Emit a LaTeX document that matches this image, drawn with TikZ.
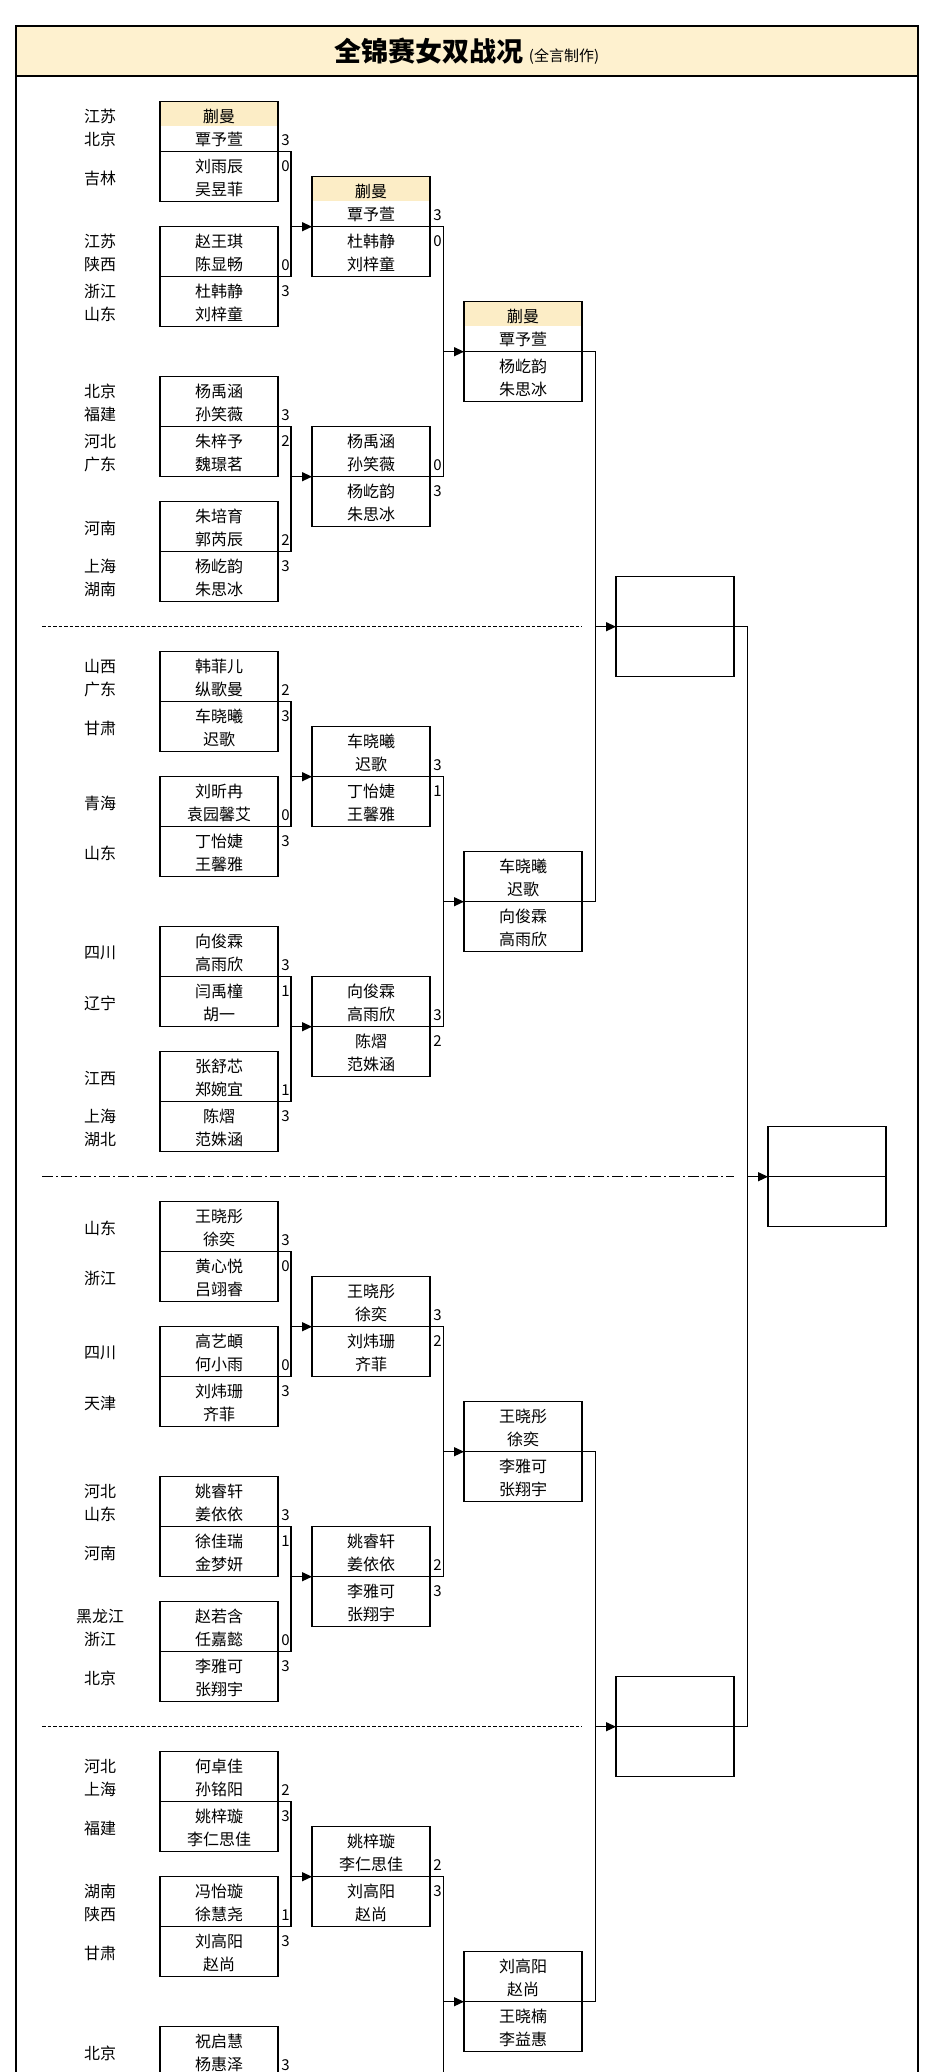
\documentclass[tikz,border=0pt]{standalone}
\usepackage{fontspec}
\setmainfont{Noto Sans CJK SC}
\usetikzlibrary{arrows.meta,calc}
\definecolor{hlcol}{HTML}{FCEDC6}
\definecolor{titlecol}{HTML}{FEF1CF}
\tikzset{
  mbox/.style={draw, line width=1.3pt, minimum width=118pt, minimum height=100pt, inner sep=0pt, outer sep=0pt},
  team/.style={align=center, font=\fontsize{16}{23}\selectfont, inner sep=0pt},
  prov/.style={align=center, font=\fontsize{16}{23}\selectfont, inner sep=0pt},
  score/.style={font=\fontsize{15}{15}\selectfont, inner sep=0pt},
  conn/.style={line width=1.3pt},
  arr/.style={line width=1.3pt, -{Triangle[length=10pt,width=9pt]}},
  sepline/.style={line width=1pt, dash pattern=on 3.5pt off 2pt},
  sepdot/.style={line width=1pt, dash pattern=on 11pt off 3pt on 2pt off 3pt},
  frame/.style={line width=2.5pt},
}
\newcommand{\MatchBox}[7]{%
  \node[mbox] (#1) at (#2,#3) {};
  \draw[conn] (#1.west) -- (#1.east);
  \node[team] (#1a) at ($(#1.center)+(0,-23.5)$) {#4};
  \node[team] (#1b) at ($(#1.center)+(0,26.5)$) {#5};
  \node[score] (#1sa) at ($(#1.east)+(7.5,-11.5)$) {#6};
  \node[score] (#1sb) at ($(#1.east)+(7.5,14)$) {#7};
}
\newcommand{\ProvPair}[4]{%
  \node[prov] (#1a) at (100,#2-23.5) {#3};
  \node[prov] (#1b) at (100,#2+26.5) {#4};
}
\begin{document}
\begin{tikzpicture}[x=1pt,y=-1pt]
\useasboundingbox (0,0) rectangle (926,2072);
\clip (0,0) rectangle (926,2072);
% frame and title
\fill[titlecol] (16,26) rectangle (918,76);
\draw[frame] (16,2100) -- (16,26) -- (918,26) -- (918,2100);
\draw[frame] (16,76) -- (918,76);
\node[inner sep=0pt] (title) at (467,51) {{\fontsize{27}{27}\selectfont\bfseries 全锦赛女双战况}\hspace{5pt}{\fontsize{15}{15}\selectfont (全言制作)}};

% separators
\draw[sepline] (42,626.7) -- (582,626.7);
\draw[sepdot] (42,1176.7) -- (734,1176.7);
\draw[sepline] (42,1726.7) -- (582,1726.7);

% highlights
\fill[hlcol] (160,101.7) rectangle (278,125.7);
\fill[hlcol] (312,176.7) rectangle (430,200.7);
\fill[hlcol] (464,301.7) rectangle (582,325.7);

% round 1
\MatchBox{m0}{219}{151.7}{蒯曼\\覃予萱}{刘雨辰\\吴昱菲}{3}{0}
\MatchBox{m1}{219}{276.7}{赵王琪\\陈显畅}{杜韩静\\刘梓童}{0}{3}
\MatchBox{m2}{219}{426.7}{杨禹涵\\孙笑薇}{朱梓予\\魏璟茗}{3}{2}
\MatchBox{m3}{219}{551.7}{朱培育\\郭芮辰}{杨屹韵\\朱思冰}{2}{3}
\MatchBox{m4}{219}{701.7}{韩菲儿\\纵歌曼}{车晓曦\\迟歌}{2}{3}
\MatchBox{m5}{219}{826.7}{刘昕冉\\袁园馨艾}{丁怡婕\\王馨雅}{0}{3}
\MatchBox{m6}{219}{976.7}{向俊霖\\高雨欣}{闫禹橦\\胡一}{3}{1}
\MatchBox{m7}{219}{1101.7}{张舒芯\\郑婉宜}{陈熠\\范姝涵}{1}{3}
\MatchBox{m8}{219}{1251.7}{王晓彤\\徐奕}{黄心悦\\吕翊睿}{3}{0}
\MatchBox{m9}{219}{1376.7}{高艺頔\\何小雨}{刘炜珊\\齐菲}{0}{3}
\MatchBox{m10}{219}{1526.7}{姚睿轩\\姜依依}{徐佳瑞\\金梦妍}{3}{1}
\MatchBox{m11}{219}{1651.7}{赵若含\\任嘉懿}{李雅可\\张翔宇}{0}{3}
\MatchBox{m12}{219}{1801.7}{何卓佳\\孙铭阳}{姚梓璇\\李仁思佳}{2}{3}
\MatchBox{m13}{219}{1926.7}{冯怡璇\\徐慧尧}{刘高阳\\赵尚}{1}{3}
\MatchBox{m14}{219}{2076.7}{祝启慧\\杨惠泽}{}{3}{}

% provinces
\ProvPair{p0}{151.7}{江苏\\北京}{吉林}
\ProvPair{p1}{276.7}{江苏\\陕西}{浙江\\山东}
\ProvPair{p2}{426.7}{北京\\福建}{河北\\广东}
\ProvPair{p3}{551.7}{河南}{上海\\湖南}
\ProvPair{p4}{701.7}{山西\\广东}{甘肃}
\ProvPair{p5}{826.7}{青海}{山东}
\ProvPair{p6}{976.7}{四川}{辽宁}
\ProvPair{p7}{1101.7}{江西}{上海\\湖北}
\ProvPair{p8}{1251.7}{山东}{浙江}
\ProvPair{p9}{1376.7}{四川}{天津}
\ProvPair{p10}{1526.7}{河北\\山东}{河南}
\ProvPair{p11}{1651.7}{黑龙江\\浙江}{北京}
\ProvPair{p12}{1801.7}{河北\\上海}{福建}
\ProvPair{p13}{1926.7}{湖南\\陕西}{甘肃}
\node[prov] (p14a) at (100,2053.2) {北京};

% round 2
\MatchBox{r0}{371}{226.7}{蒯曼\\覃予萱}{杜韩静\\刘梓童}{3}{0}
\MatchBox{r1}{371}{476.7}{杨禹涵\\孙笑薇}{杨屹韵\\朱思冰}{0}{3}
\MatchBox{r2}{371}{776.7}{车晓曦\\迟歌}{丁怡婕\\王馨雅}{3}{1}
\MatchBox{r3}{371}{1026.7}{向俊霖\\高雨欣}{陈熠\\范姝涵}{3}{2}
\MatchBox{r4}{371}{1326.7}{王晓彤\\徐奕}{刘炜珊\\齐菲}{3}{2}
\MatchBox{r5}{371}{1576.7}{姚睿轩\\姜依依}{李雅可\\张翔宇}{2}{3}
\MatchBox{r6}{371}{1876.7}{姚梓璇\\李仁思佳}{刘高阳\\赵尚}{2}{3}
\coordinate (r7e) at (430,2126.7);

% round 3
\MatchBox{s0}{523}{351.7}{蒯曼\\覃予萱}{杨屹韵\\朱思冰}{}{}
\MatchBox{s1}{523}{901.7}{车晓曦\\迟歌}{向俊霖\\高雨欣}{}{}
\MatchBox{s2}{523}{1451.7}{王晓彤\\徐奕}{李雅可\\张翔宇}{}{}
\MatchBox{s3}{523}{2001.7}{刘高阳\\赵尚}{王晓楠\\李益惠}{}{}

% semifinals and final
\MatchBox{f0}{675}{626.7}{}{}{}{}
\MatchBox{f1}{675}{1726.7}{}{}{}{}
\MatchBox{w}{827}{1176.7}{}{}{}{}

% connectors round 1 -> round 2
\draw[conn] (m0.east) -- ++(13,0) coordinate (jm0) |- (m1.east);
\draw[arr] (jm0 |- r0.west) -- (r0.west);
\draw[conn] (m2.east) -- ++(13,0) coordinate (jm1) |- (m3.east);
\draw[arr] (jm1 |- r1.west) -- (r1.west);
\draw[conn] (m4.east) -- ++(13,0) coordinate (jm2) |- (m5.east);
\draw[arr] (jm2 |- r2.west) -- (r2.west);
\draw[conn] (m6.east) -- ++(13,0) coordinate (jm3) |- (m7.east);
\draw[arr] (jm3 |- r3.west) -- (r3.west);
\draw[conn] (m8.east) -- ++(13,0) coordinate (jm4) |- (m9.east);
\draw[arr] (jm4 |- r4.west) -- (r4.west);
\draw[conn] (m10.east) -- ++(13,0) coordinate (jm5) |- (m11.east);
\draw[arr] (jm5 |- r5.west) -- (r5.west);
\draw[conn] (m12.east) -- ++(13,0) coordinate (jm6) |- (m13.east);
\draw[arr] (jm6 |- r6.west) -- (r6.west);

% round 2 -> round 3
\draw[conn] (r0.east) -- ++(13.5,0) coordinate (jr0) |- (r1.east);
\draw[arr] (jr0 |- s0.west) -- (s0.west);
\draw[conn] (r2.east) -- ++(13.5,0) coordinate (jr1) |- (r3.east);
\draw[arr] (jr1 |- s1.west) -- (s1.west);
\draw[conn] (r4.east) -- ++(13.5,0) coordinate (jr2) |- (r5.east);
\draw[arr] (jr2 |- s2.west) -- (s2.west);
\draw[conn] (r6.east) -- ++(13.5,0) coordinate (jr3) |- (r7e);
\draw[arr] (jr3 |- s3.west) -- (s3.west);

% round 3 -> semifinal
\draw[conn] (s0.east) -- ++(13.5,0) coordinate (js0) |- (s1.east);
\draw[arr] (js0 |- f0.west) -- (f0.west);
\draw[conn] (s2.east) -- ++(13.5,0) coordinate (js1) |- (s3.east);
\draw[arr] (js1 |- f1.west) -- (f1.west);

% semifinal -> final
\draw[conn] (f0.east) -- ++(13.5,0) coordinate (jf) |- (f1.east);
\draw[arr] (jf |- w.west) -- (w.west);
\end{tikzpicture}
\end{document}
